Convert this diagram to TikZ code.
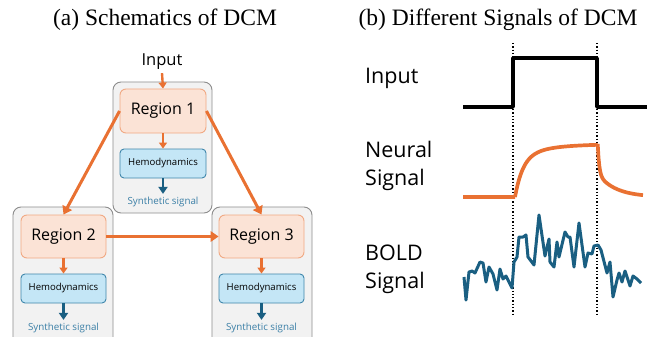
\documentclass[tikz,border=0pt]{standalone}
\usepackage{fontspec}
\setmainfont{Liberation Serif}
\setsansfont{Open Sans}
\usetikzlibrary{arrows.meta, calc, positioning}
\definecolor{orgcol}{HTML}{E97132}
\definecolor{regfill}{HTML}{FBE3D6}
\definecolor{regline}{HTML}{F1A983}
\definecolor{hemofill}{HTML}{C4E6F6}
\definecolor{hemoline}{HTML}{3F86AB}
\definecolor{boldcol}{HTML}{1A5F82}
\definecolor{syncol}{HTML}{3B7FA6}
\definecolor{grpfill}{HTML}{F2F2F2}
\definecolor{grpline}{HTML}{8C8C8C}
\tikzset{
  grp/.style    = {draw=grpline, fill=grpfill, rounded corners=8pt, line width=0.9pt},
  region/.style = {draw=regline, fill=regfill, rounded corners=6pt, line width=0.9pt,
                   minimum width=86pt, minimum height=44pt,
                   font=\sffamily\fontsize{16}{19}\selectfont},
  hemo/.style   = {draw=hemoline, fill=hemofill, rounded corners=4pt, line width=0.9pt,
                   minimum width=86pt, minimum height=29pt,
                   font=\sffamily\fontsize{9.6}{11}\selectfont},
  synth/.style  = {text=syncol, font=\sffamily\fontsize{9.8}{11}\selectfont, inner sep=0pt},
  feed/.style   = {-{Triangle[length=6pt, width=8pt]}, draw=orgcol, line width=2.4pt},
  link/.style   = {-{Triangle[length=8pt, width=10.5pt]}, draw=orgcol, line width=3pt},
  outp/.style   = {-{Triangle[length=7pt, width=9pt]}, draw=boldcol, line width=2.8pt},
  title/.style  = {font=\rmfamily\fontsize{23.5}{28}\selectfont, inner sep=0pt},
  siglbl/.style = {font=\sffamily\fontsize{21.5}{28}\selectfont, anchor=west,
                   align=left, inner sep=0pt},
  tick/.style   = {draw=black, dotted, line width=1.3pt},
  sig/.style    = {line width=3.7pt, line join=round},
}

\begin{document}
\begin{tikzpicture}[x=1pt, y=-1pt]
  \useasboundingbox (0,0) rectangle (651,337);
  \clip (0,0) rectangle (651,337);

  %% ---------------- (a) schematics ----------------
  \node[title] (ta) at (165,20) {(a) Schematics of DCM};

  \draw[grp] (113,82) rectangle (212,213);
  \draw[grp] (13,207) rectangle (113,350);
  \draw[grp] (212,207) rectangle (312,350);

  \node[font=\sffamily\fontsize{16.5}{19}\selectfont, inner sep=0pt]
       (in) at (162,62) {Input};

  \node[region] (r1) at (163,111) {Region 1};
  \node[hemo]   (h1) at (163,163.5) {Hemodynamics};
  \node[synth]  (s1) at (163,202) {Synthetic signal};

  \node[region, minimum width=85pt, minimum height=43pt] (r2) at (63.5,236.5) {Region 2};
  \node[hemo,   minimum width=85pt] (h2) at (63.5,288.5) {Hemodynamics};
  \node[synth]  (s2) at (63.5,328) {Synthetic signal};

  \node[region, minimum width=85pt, minimum height=43pt] (r3) at (261.5,236.5) {Region 3};
  \node[hemo,   minimum width=85pt] (h3) at (261.5,288.5) {Hemodynamics};
  \node[synth]  (s3) at (261.5,328) {Synthetic signal};

  \draw[feed] ([yshift=-3pt]in.south) -- (r1.north);
  \foreach \r/\h/\s in {r1/h1/s1, r2/h2/s2, r3/h3/s3}{
    \draw[feed] (\r.south) -- (\h.north);
    \draw[outp] (\h.south) -- ([yshift=3pt]\s.north);
  }

  \draw[link] (r1.west) -- (r2.north);
  \draw[link] (r1.east) -- (r3.north);
  \draw[link] (r2.east) -- (r3.west);

  %% ---------------- (b) signals ----------------
  \node[title] (tb) at (498,20) {(b) Different Signals of DCM};

  \node[siglbl] (lin)   at (365,78)  {Input};
  \node[siglbl] (lneu)  at (365,166) {Neural\\Signal};
  \node[siglbl] (lbold) at (365,269) {BOLD\\Signal};

  \coordinate (on)  at (513,43);
  \coordinate (off) at (597,43);
  \draw[tick] (on) -- ++(0,272);
  \draw[tick] (off) -- ++(0,272);

  % stimulus
  \draw[sig, black] (463,107) -- (513,107) -- (513,58) -- (597,58)
       -- (597,107) -- (647,107);

  % neural response
  \draw[sig, orgcol] (463,197) -- (515,197)
       plot[domain=515:597.7, samples=60]
         (\x, {197 - 40*(1-exp(-(\x-515)/8)) - 13*(1-exp(-(\x-515)/30))})
       plot[domain=597.7:643, samples=60]
         (\x, {197 - 30*exp(-(\x-597.7)/1.5) - 23*exp(-(\x-597.7)/18)});

  % bold response
  \draw[sig, boldcol, line width=3pt] plot coordinates {
    (464,277) (466,300) (469,272) (472,271) (475,273) (480,262) (483,263)
    (486,282) (489,267) (493,274) (497,290) (500,269) (503,279) (506,276)
    (512,288) (514,262) (517,257) (519,237) (523,237) (526,235) (528,257)
    (534,265) (539,215) (545,256) (549,239) (550,262) (554,267) (557,242)
    (559,257) (565,232) (568,237) (570,237) (574,267) (579,223) (585,267)
    (588,253) (592,254) (594,246) (598,245) (601,250) (607,273) (610,262)
    (613,297) (617,280) (619,273) (622,282) (625,271) (630,286) (633,276)
    (637,279) (641,283)};

\end{tikzpicture}
\end{document}
